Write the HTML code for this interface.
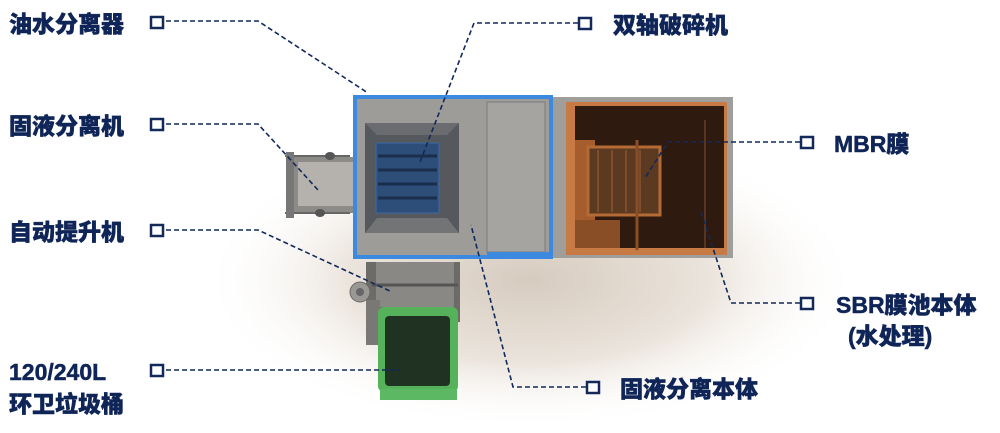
<!DOCTYPE html>
<html><head><meta charset="utf-8"><style>
html,body{margin:0;padding:0;background:#fff;width:1000px;height:433px;overflow:hidden}
svg{display:block}
.t{font-family:"Liberation Sans","Noto Sans CJK SC",sans-serif;font-weight:900;fill:#0f2557;font-size:23px;stroke:#0f2557;stroke-width:0.5}
</style></head><body>
<svg width="1000" height="433" viewBox="0 0 1000 433" xmlns="http://www.w3.org/2000/svg">
<defs>
<radialGradient id="sh" cx="0.5" cy="0.5" r="0.5">
<stop offset="0" stop-color="#d6cbbf"/><stop offset="0.55" stop-color="#ebe4dc"/><stop offset="1" stop-color="#fff" stop-opacity="0"/>
</radialGradient>
</defs>
<ellipse cx="530" cy="280" rx="330" ry="150" fill="url(#sh)"/>
<rect x="290" y="157" width="64" height="56" fill="#8d8b88"/>
<rect x="298" y="162" width="56" height="44" fill="#b5b2ae"/>
<line x1="285" y1="156" x2="350" y2="156" stroke="#666" stroke-width="2"/>
<line x1="285" y1="213" x2="350" y2="213" stroke="#666" stroke-width="2"/>
<rect x="286" y="152" width="8" height="66" fill="#777"/>
<ellipse cx="330" cy="156" rx="5" ry="4" fill="#555"/><ellipse cx="320" cy="213" rx="5" ry="4" fill="#555"/>
<rect x="353" y="95" width="200" height="164" fill="#3c8ae0"/>
<rect x="357" y="99" width="192" height="156" fill="#9e9c99"/>
<rect x="487" y="102" width="58" height="150" fill="#a6a4a1" stroke="#7e7c7a"/>
<rect x="487" y="252" width="62" height="3" fill="#3c8ae0"/>
<rect x="365" y="123" width="94" height="110" fill="#55585c"/>
<polygon points="365,123 459,123 447,135 377,135" fill="#6a6c6f"/>
<polygon points="365,233 459,233 447,218 377,218" fill="#727476"/>
<rect x="376" y="143" width="63" height="70" fill="#2e4e7a"/>
<rect x="376" y="143" width="63" height="70" fill="none" stroke="#3d6aa5"/>
<g stroke="#1b2e4c" stroke-width="3">
<line x1="378" y1="156" x2="437" y2="156"/><line x1="378" y1="170" x2="437" y2="170"/><line x1="378" y1="184" x2="437" y2="184"/><line x1="378" y1="198" x2="437" y2="198"/>
</g>
<rect x="553" y="97" width="180" height="161" fill="#a09e9a"/>
<rect x="566" y="102" width="161" height="153" fill="#c87a44"/>
<rect x="575" y="106" width="149" height="142" fill="#2e1a0f"/>
<rect x="575" y="140" width="20" height="80" fill="#a55d2d"/>
<rect x="575" y="220" width="45" height="28" fill="#8a4e26"/>
<rect x="588" y="147" width="72" height="68" fill="#5c3a22" stroke="#b36a35" stroke-width="3"/>
<g stroke="#8a5530" stroke-width="1.5"><line x1="598" y1="150" x2="598" y2="212"/><line x1="612" y1="150" x2="612" y2="212"/><line x1="626" y1="150" x2="626" y2="212"/><line x1="640" y1="150" x2="640" y2="212"/></g>
<line x1="637" y1="140" x2="637" y2="250" stroke="#8a4e26" stroke-width="3"/>
<line x1="705" y1="120" x2="705" y2="248" stroke="#5a3420" stroke-width="2"/>
<rect x="366" y="262" width="94" height="60" fill="#6d6b68"/>
<rect x="376" y="262" width="78" height="45" fill="#8a8884"/>
<line x1="372" y1="285" x2="458" y2="285" stroke="#555" stroke-width="3"/>
<circle cx="360" cy="292" r="10" fill="#9a9895" stroke="#6a6866"/>
<circle cx="360" cy="292" r="4" fill="#666"/>
<rect x="366" y="300" width="14" height="45" fill="#7a7875"/>
<rect x="378" y="307" width="80" height="85" rx="6" fill="#55b15a"/>
<rect x="385" y="316" width="65" height="70" rx="4" fill="#203222"/>
<rect x="380" y="389" width="77" height="11" fill="#5cb862"/>
<g fill="none" stroke="#12295a" stroke-width="1.6" stroke-dasharray="5,3">
<polyline points="166,21 258,21 368,93"/>
<polyline points="578,23 474,23 420,162"/>
<polyline points="166,124 258,124 318,190"/>
<polyline points="166,230 258,230 392,292"/>
<polyline points="166,370 400,370"/>
<polyline points="586,387 513,387 471,225"/>
<polyline points="800,303 731,303 701,212"/>
<polyline points="800,142 668,142 645,178"/>
</g>
<g fill="#fff" stroke="#12295a" stroke-width="2.5">
<rect x="151" y="17" width="12" height="11"/>
<rect x="151" y="119" width="12" height="11"/>
<rect x="151" y="225" width="12" height="11"/>
<rect x="151" y="365" width="12" height="11"/>
<rect x="579" y="18" width="12" height="11"/>
<rect x="801" y="137" width="12" height="11"/>
<rect x="801" y="298" width="12" height="11"/>
<rect x="587" y="382" width="12" height="11"/>
</g>
<text class="t" x="9" y="32">油水分离器</text>
<text class="t" x="9" y="134">固液分离机</text>
<text class="t" x="9" y="240">自动提升机</text>
<text class="t" x="9" y="380">120/240L</text>
<text class="t" x="9" y="412">环卫垃圾桶</text>
<text class="t" x="613" y="33">双轴破碎机</text>
<text class="t" x="834" y="152">MBR膜</text>
<text class="t" x="836" y="313">SBR膜池本体</text>
<text class="t" x="848" y="344">(水处理)</text>
<text class="t" x="620" y="397">固液分离本体</text>
</svg>
</body></html>
